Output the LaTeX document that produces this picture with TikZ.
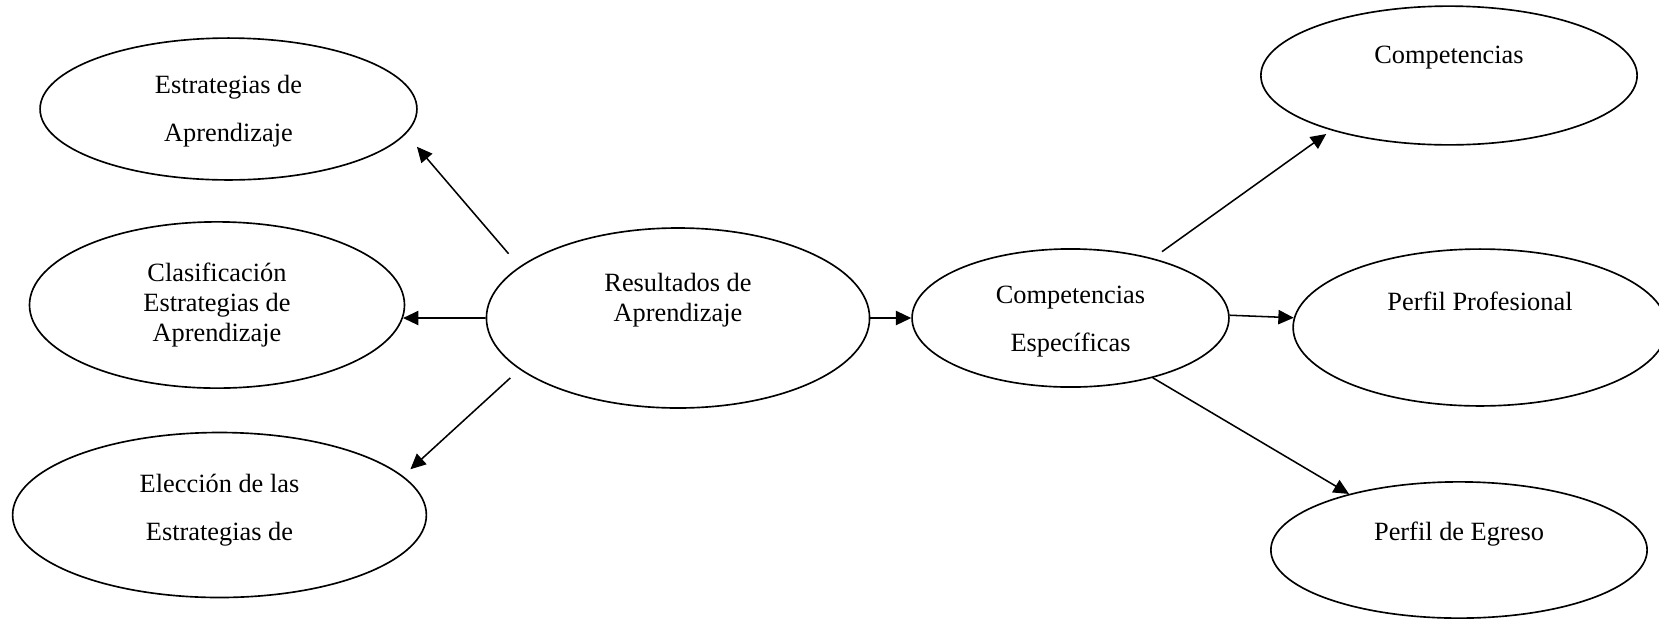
\documentclass[tikz,border=0pt]{standalone}
\usepackage{fontspec}
\setmainfont{Liberation Serif}
\usetikzlibrary{shapes.geometric, arrows.meta}
\tikzstyle{oval} = [ellipse, draw=black, line width=0.75pt, text centered, align=center]
\tikzstyle{arrow} = [line width=0.7pt, -{Triangle[length=7pt,width=6.5pt]}]

\begin{document}
\begin{tikzpicture}[node distance=7.376cm, font=\fontsize{12pt}{13.8pt}\selectfont]
\useasboundingbox (0,0) rectangle (26.544,-9.92);

\node (res) [oval, minimum width=6.13cm, minimum height=2.88cm, label={[align=center, yshift=0.29cm]center:Resultados de\\Aprendizaje}] at (10.848,-5.088) {};
\node (clas) [oval, left of=res, yshift=0.208cm, minimum width=6.0cm, minimum height=2.66cm] {Clasificación\\Estrategias de\\Aprendizaje};
\node (estr) [oval, minimum width=6.03cm, minimum height=2.27cm, label={[align=center, yshift=-0.04cm]center:Estrategias de\\[8pt]Aprendizaje}] at (3.656,-1.744) {};
\node (elec) [oval, minimum width=6.62cm, minimum height=2.64cm, label={[align=center, yshift=0.08cm]center:Elección de las\\[8pt]Estrategias de}] at (3.512,-8.24) {};

\node (esp) [oval, minimum width=5.07cm, minimum height=2.21cm, label={[align=center, yshift=-0.06cm]center:Competencias\\[8pt]Específicas}] at (17.128,-5.088) {};
\node (comp) [oval, minimum width=6.02cm, minimum height=2.22cm, label={[yshift=0.28cm]center:Competencias}] at (23.184,-1.208) {};
\node (pprof) [oval, minimum width=5.98cm, minimum height=2.51cm, label={[yshift=0.42cm]center:Perfil Profesional}] at (23.68,-5.24) {};
\node (egr) [oval, minimum width=6.02cm, minimum height=2.18cm, label={[yshift=0.25cm]center:Perfil de Egreso}] at (23.344,-8.8) {};

\draw [arrow, shorten <=0.27cm, shorten >=0.27cm] (res.162) -- (estr.-8);
\draw [arrow] (res.west) -- (clas.-4);
\draw [arrow, shorten <=0.2cm, shorten >=0.16cm] (res.-162) -- (elec.12);

\draw [arrow] (res.east) -- (esp.west);

\draw [arrow, shorten <=0.18cm, shorten >=0.1cm] (esp.36) -- (comp.-155);
\draw [arrow] (esp.1) -- (pprof.177);
\draw [arrow] (esp.-36) -- (egr.153);

\end{tikzpicture}
\end{document}
